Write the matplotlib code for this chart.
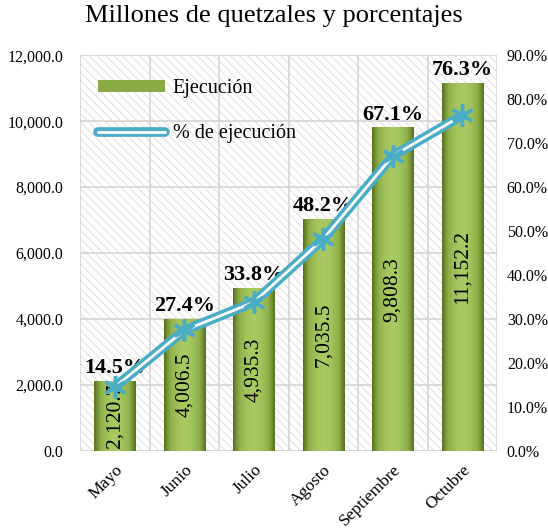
import numpy as np
import matplotlib
matplotlib.use("Agg")
import matplotlib.pyplot as plt
import matplotlib.patheffects as pe
from matplotlib.patches import Rectangle
from matplotlib.ticker import FuncFormatter

meses = ["Mayo", "Junio", "Julio", "Agosto", "Septiembre", "Octubre"]
ejecucion = [2120.7, 4006.5, 4935.3, 7035.5, 9808.3, 11152.2]
pct_ejecucion = [14.5, 27.4, 33.8, 48.2, 67.1, 76.3]

plt.rcParams['font.family'] = ['Liberation Serif', 'DejaVu Serif']
plt.rcParams['hatch.linewidth'] = 0.7

fig = plt.figure(figsize=(5.48, 5.31), dpi=100)
ax = fig.add_axes([0.146, 0.151, 0.761, 0.745])
ax2 = ax.twinx()

x = np.arange(len(meses))
ax.set_xlim(-0.5, len(meses) - 0.5)
ax.set_ylim(0, 12000)
ax2.set_ylim(0, 0.9)

# hatched background
ax.add_patch(Rectangle((0, 0), 1, 1, transform=ax.transAxes, facecolor='white',
                       edgecolor='#e0e0e0', hatch='\\\\\\\\', lw=0, zorder=0))
ax.set_yticks(np.arange(0, 12001, 2000))
ax.set_xticks(np.arange(-0.5, len(meses), 1), minor=True)
ax.grid(True, axis='y', color='#d4d4d4', lw=1.2, zorder=1)
ax.grid(True, axis='x', which='minor', color='#d4d4d4', lw=1.2, zorder=1)
ax.tick_params(axis='x', which='both', length=0)

# bars with a cylinder-like gradient
bars = ax.bar(x, ejecucion, width=0.59, color='#8aaa45', zorder=2, label='Ejecución')
grad = np.linspace(-1, 1, 200)
shade = 1 - np.abs(grad) ** 1.8
cmap = matplotlib.colors.LinearSegmentedColormap.from_list('g', ['#55701f', '#8fb04a', '#a9c962'])
for b in bars:
    x0, w, h = b.get_x(), b.get_width(), b.get_height()
    im = ax.imshow(shade[np.newaxis, :], extent=[x0, x0 + w, 0, h], aspect='auto',
                   cmap=cmap, vmin=0, vmax=1, zorder=2.1)
    im.set_clip_path(b)
    ax.text(x0 + w / 2, h / 2, f"{h:,.1f}", rotation=90, ha='center', va='center',
            fontsize=15.5, zorder=5)

for xi, v, p in zip(x, ejecucion, pct_ejecucion):
    ax.annotate(f"{p:.1f}%", (xi, v), xytext=(0, 2), textcoords='offset points',
                ha='center', va='bottom', fontsize=16, fontweight='bold', zorder=6)

ax2.set_zorder(ax.get_zorder() + 1)
ax2.patch.set_visible(False)
pct = np.array(pct_ejecucion) / 100
ax2.plot(x, pct, color='white', lw=2, solid_capstyle='round',
         path_effects=[pe.Stroke(linewidth=7, foreground='#4bacc6', capstyle='round'), pe.Normal()],
         label='% de ejecución')
ax2.plot(x, pct, ls='none', marker=(6, 2, 0), ms=16, mew=2.5, color='#4bacc6')
ax2.set_yticks(np.arange(0, 0.91, 0.1))
ax2.yaxis.set_major_formatter(FuncFormatter(lambda v, _: f"{v*100:.1f}%"))

ax.yaxis.set_major_formatter(FuncFormatter(lambda v, _: f"{v:,.1f}"))
ax.set_xticks(x)
ax.set_xticklabels(meses, rotation=45, ha='right', rotation_mode='anchor', fontsize=12.5)
for a in (ax, ax2):
    a.tick_params(axis='y', length=0, labelsize=11.5)
    for s in a.spines.values():
        s.set_visible(False)
ax.tick_params(axis='y', pad=12)
ax2.tick_params(axis='y', pad=7)
ax.tick_params(axis='x', pad=8)

h1, l1 = ax.get_legend_handles_labels()
h2, l2 = ax2.get_legend_handles_labels()
leg = ax.legend(h1 + h2, l1 + l2, loc='upper left', frameon=False, fontsize=14.5,
                handlelength=3.3, handleheight=0.5, labelspacing=1.3, handletextpad=0.4,
                bbox_to_anchor=(0.0, 0.985))
leg.set_zorder(10)

fig.suptitle("Millones de quetzales y porcentajes", fontsize=19, y=0.99)
fig.savefig("out.png", dpi=100)
